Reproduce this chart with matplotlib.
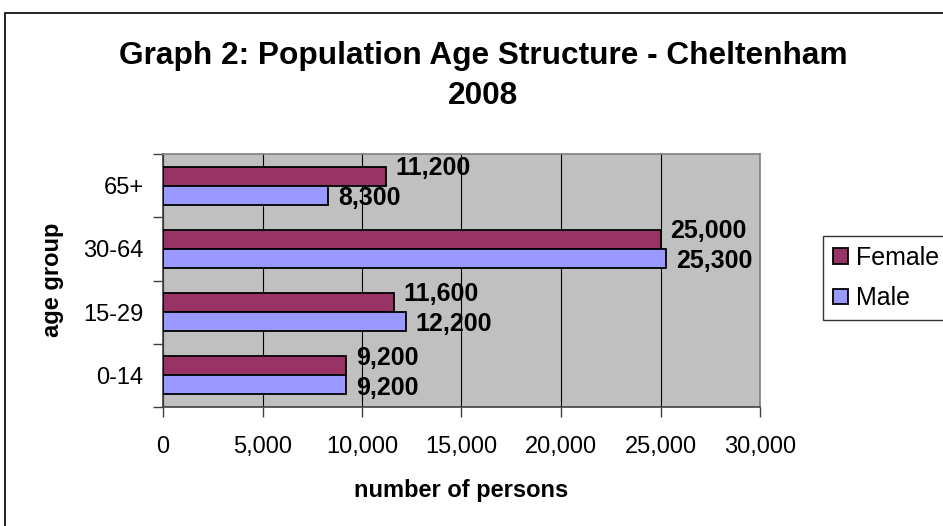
import matplotlib
matplotlib.use("Agg")
import matplotlib.pyplot as plt
from matplotlib.patches import Rectangle
import numpy as np

plt.rcParams['font.family'] = ['Liberation Sans', 'DejaVu Sans']

categories = ["0-14", "15-29", "30-64", "65+"]
female = [9200, 11600, 25000, 11200]
male = [9200, 12200, 25300, 8300]
xticks = [0, 5000, 10000, 15000, 20000, 25000, 30000]

W, H = 943, 526
fig = plt.figure(figsize=(W / 100, H / 100), dpi=100)

# outer chart border
fig.patches.append(Rectangle((5 / W, -0.1), 1.2, 1.1 - 13 / H, transform=fig.transFigure,
                             fill=False, edgecolor='black', linewidth=1.2, zorder=0))

ax = fig.add_axes([163 / W, 1 - 407 / H, (760 - 163) / W, (407 - 154) / H])
ax.set_facecolor('#C0C0C0')

y = np.arange(len(categories))
bh = 0.3
fc, mc = '#993366', '#9999FF'
fb = ax.barh(y + bh / 2, female, height=bh, color=fc, edgecolor='black', linewidth=1.3, zorder=3, label='Female')
mb = ax.barh(y - bh / 2, male, height=bh, color=mc, edgecolor='black', linewidth=1.3, zorder=3, label='Male')

for rect, v in zip(fb, female):
    ax.annotate(f"{v:,}", (v, rect.get_y() + rect.get_height() / 2), xytext=(7, 6),
                textcoords='offset points', ha='left', va='center', fontsize=18, fontweight='bold')
for rect, v in zip(mb, male):
    ax.annotate(f"{v:,}", (v, rect.get_y() + rect.get_height() / 2), xytext=(7, -2),
                textcoords='offset points', ha='left', va='center', fontsize=18, fontweight='bold')

ax.set_xlim(0, 30000)
ax.set_ylim(-0.5, 3.5)
ax.set_xticks(xticks)
ax.set_xticklabels([f"{t:,}" for t in xticks], fontsize=17)
ax.set_yticks(y)
ax.set_yticklabels(categories, fontsize=17)
ax.set_yticks(np.arange(-0.5, 4.0, 1.0), minor=True)
ax.tick_params(axis='y', which='major', length=0, pad=14)
ax.tick_params(axis='y', which='minor', length=7, width=1, color='#404040')
ax.tick_params(axis='x', length=7, width=1, color='#404040', pad=14)
ax.grid(axis='x', color='black', linewidth=0.8, zorder=1)
ax.set_axisbelow(True)
for s in ['top', 'right']:
    ax.spines[s].set_color('#808080')
    ax.spines[s].set_linewidth(1.2)
for s in ['left', 'bottom']:
    ax.spines[s].set_color('#404040')
    ax.spines[s].set_linewidth(1.2)

fig.text(461.5 / W, 1 - 497 / H, "number of persons", ha='center', va='baseline',
         fontsize=17, fontweight='bold')
fig.text(53 / W, 1 - 280 / H, "age group", ha='center', va='center', rotation=90,
         fontsize=17, fontweight='bold')

fig.text(483 / W, 1 - 64 / H, "Graph 2: Population Age Structure - Cheltenham", ha='center', va='baseline',
         fontsize=22.8, fontweight='bold')
fig.text(483 / W, 1 - 104 / H, "2008", ha='center', va='baseline', fontsize=22.8, fontweight='bold')

handles = [fb, mb]
leg = fig.legend(handles, ['Female', 'Male'], loc='upper left', bbox_to_anchor=(823 / W, 1 - 236 / H),
                 fontsize=18, frameon=True, fancybox=False, edgecolor='black', handlelength=0.6,
                 handleheight=0.6, handletextpad=0.3, borderpad=0.4, labelspacing=0.65, borderaxespad=0)
leg.get_frame().set_linewidth(1.0)

fig.savefig("out.png", dpi=100)
